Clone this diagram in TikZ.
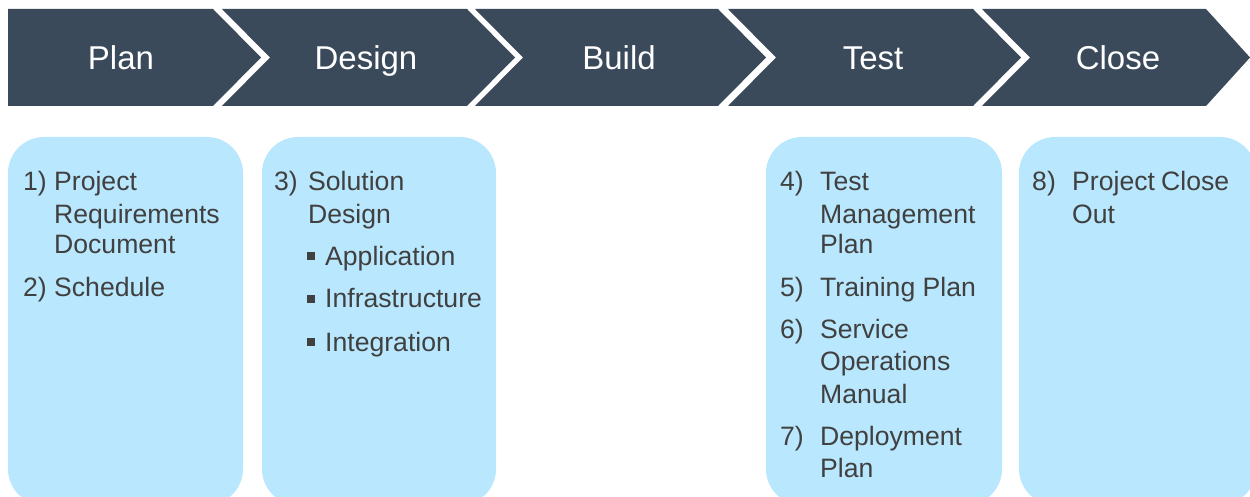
\documentclass[tikz,border=0pt]{standalone}
\usepackage{fontspec}
\setmainfont{Liberation Sans}
\definecolor{chev}{RGB}{59,74,90}
\definecolor{boxfill}{RGB}{185,231,253}
\definecolor{txt}{RGB}{64,64,64}
\begin{document}
\begin{tikzpicture}[x=1pt,y=-1pt,
  chevfill/.style={fill=chev},
  head/.style={text=white,font=\fontsize{33}{38}\selectfont,inner sep=0pt,anchor=base},
  card/.style={fill=boxfill,rounded corners=36pt},
  item/.style={text=txt,font=\fontsize{26.6}{31}\selectfont,inner sep=0pt,anchor=base west},
  bul/.style={fill=txt}]
\useasboundingbox (0,0) rectangle (1250,497);
\begin{scope}
\clip (0,0) rectangle (1250,497);
% chevrons
\fill[chevfill] (8,9) -- (213,9) -- (261,57.5) -- (213,106) -- (8,106) -- cycle;
\fill[chevfill] (222,9) -- (467,9) -- (515,57.5) -- (467,106) -- (222,106) -- (270,57.5) -- cycle;
\fill[chevfill] (475,9) -- (718,9) -- (766,57.5) -- (718,106) -- (475,106) -- (523,57.5) -- cycle;
\fill[chevfill] (728,9) -- (973,9) -- (1021,57.5) -- (973,106) -- (728,106) -- (776,57.5) -- cycle;
\fill[chevfill] (982,9) -- (1206,9) -- (1250,57.5) -- (1206,106) -- (982,106) -- (1030,57.5) -- cycle;
% boxes
\fill[card] (8,137) rectangle (243,505);
\fill[card] (262,137) rectangle (496,505);
\fill[card] (766,137) rectangle (1002,505);
\fill[card] (1019,137) rectangle (1256,505);
\end{scope}
% headings
\node[head] (hplan) at (121,70) {Plan};
\node[head] (hdesign) at (366,70) {Design};
\node[head] (hbuild) at (619,70) {Build};
\node[head] (htest) at (873,70) {Test};
\node[head] (hclose) at (1118,70) {Close};
% box 1
\node[item] (n1) at (23,191) {1)};
\node[item] (t1a) at (54,191) {Project};
\node[item] (t1b) at (54,223) {Requirements};
\node[item] (t1c) at (54,254) {Document};
\node[item] (n2) at (23,296) {2)};
\node[item] (t2a) at (54,296) {Schedule};
% box 2
\node[item] (n3) at (274,191) {3)};
\node[item] (t3a) at (308,191) {Solution};
\node[item] (t3b) at (308,223) {Design};
\fill[bul] (307,252) rectangle (315,260);
\node[item] (b1) at (325,265) {Application};
\fill[bul] (307,295) rectangle (315,303);
\node[item] (b2) at (325,307) {Infrastructure};
\fill[bul] (307,338) rectangle (315,346);
\node[item] (b3) at (325,351) {Integration};
% box 3
\node[item] (n4) at (780,191) {4)};
\node[item] (t4a) at (820,191) {Test};
\node[item] (t4b) at (820,223) {Management};
\node[item] (t4c) at (820,254) {Plan};
\node[item] (n5) at (780,296) {5)};
\node[item] (t5a) at (820,296) {Training Plan};
\node[item] (n6) at (780,338) {6)};
\node[item] (t6a) at (820,338) {Service};
\node[item] (t6b) at (820,370) {Operations};
\node[item] (t6c) at (820,403) {Manual};
\node[item] (n7) at (780,445) {7)};
\node[item] (t7a) at (820,445) {Deployment};
\node[item] (t7b) at (820,477) {Plan};
% box 4
\node[item] (n8) at (1032,191) {8)};
\node[item] (t8a) at (1072,191) {Project};
\node[item] (t8b) at (1161,191) {Close};
\node[item] (t8c) at (1072,223) {Out};
\end{tikzpicture}
\end{document}
